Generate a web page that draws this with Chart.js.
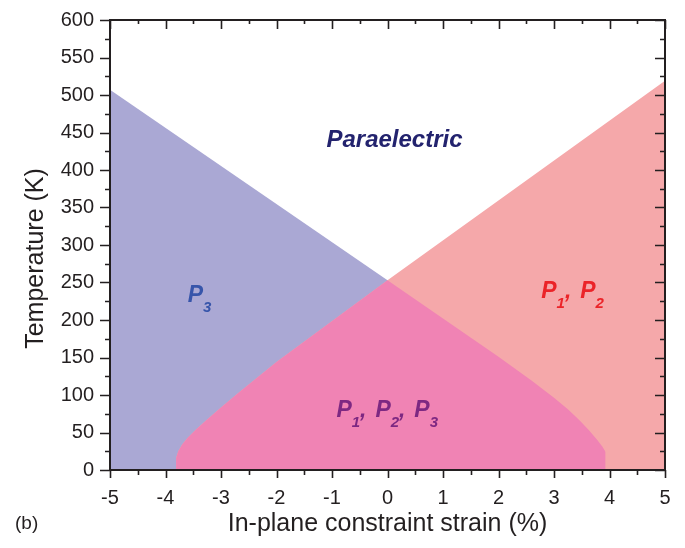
<!DOCTYPE html>
<html><head><meta charset="utf-8">
<script src="https://cdn.jsdelivr.net/npm/chart.js@4.4.0/dist/chart.umd.min.js"></script>
<style>html,body{margin:0;padding:0;background:#fff}#wrap{width:685px;height:548px}</style>
</head><body><div id="wrap"><canvas id="c" width="685" height="548"></canvas></div>
<script>
// ---- data ----
const xTickLabels = ['-5','-4','-3','-2','-1','0','1','2','3','4','5'];
const yTickLabels = ['0','50','100','150','200','250','300','350','400','450','500','550','600'];
// upper limit of the P3 (out-of-plane) phase
const p3Strain = [-5, 0, 2.0, 2.6, 3.0, 3.25, 3.45, 3.63, 3.78, 3.87, 3.93, 3.93];
const p3Temp   = [507, 253, 151, 119, 96.5, 81, 67, 53, 40, 31.5, 24, 0];
// upper limit of the P1,P2 (in-plane) phase
const p12Strain = [-3.81, -3.81, -3.77, -3.70, -3.60, -3.45, -3.25, -3.00, -2.70, -2.40, -2.00, 0, 5];
const p12Temp   = [0, 16, 25, 34, 43, 54, 67.5, 83.5, 102, 120, 144, 253, 519];
const phaseNames = ['Paraelectric', 'P3', 'P1, P2', 'P1, P2, P3'];
const xTitle = 'In-plane constraint strain (%)';
const yTitle = 'Temperature (K)';
const panelTag = '(b)';

const toXY = (xs, ys) => xs.map((x, i) => ({x: x, y: ys[i]}));
const p3Pts = toXY(p3Strain, p3Temp);
const p12Pts = toXY(p12Strain, p12Temp);
const overlapPts = p12Pts.filter(p => p.x <= 0).concat(p3Pts.filter(p => p.x > 0));

const FONT = '"Liberation Sans", Arial, Helvetica, sans-serif';
const AXIS = '#231f20';

const regionLabels = [
  {parts: [['Paraelectric','m']], x: -1.10, y: 430.7, color: '#23236e', size: 24},
  {parts: [['P','m'],['3','s']], x: -3.60, y: 224, color: '#3755aa', size: 23},
  {parts: [['P','m'],['1','s'],[',','c'],['P','m'],['2','s']], x: 2.77, y: 229, color: '#eb2328', size: 23},
  {parts: [['P','m'],['1','s'],[',','c'],['P','m'],['2','s'],[',','c'],['P','m'],['3','s']], x: -0.92, y: 70.7, color: '#7d2882', size: 23}
];

const decorPlugin = {
  id: 'decor',
  afterDatasetsDraw(chart) {
    const ctx = chart.ctx, xs = chart.scales.x, ys = chart.scales.y;
    ctx.save();
    regionLabels.forEach(l => {
      let px = xs.getPixelForValue(l.x);
      const py = ys.getPixelForValue(l.y);
      ctx.fillStyle = l.color;
      ctx.textAlign = 'left';
      ctx.textBaseline = 'alphabetic';
      l.parts.forEach(([t, k]) => {
        if (k === 's') {
          ctx.font = 'italic bold 15px ' + FONT;
          ctx.fillText(t, px, py + 10);
          px += ctx.measureText(t).width;
        } else {
          ctx.font = 'italic bold ' + l.size + 'px ' + FONT;
          ctx.fillText(t, px, py);
          px += ctx.measureText(t).width;
          if (k === 'c') px += ctx.measureText(' ').width + 2.5;
        }
      });
    });
    ctx.restore();
  },
  afterDraw(chart) {
    const ctx = chart.ctx, xs = chart.scales.x, ys = chart.scales.y;
    const a = chart.chartArea;
    ctx.save();
    ctx.strokeStyle = AXIS;
    ctx.lineWidth = 2;
    ctx.strokeRect(a.left, a.top, a.right - a.left, a.bottom - a.top);
    ctx.lineWidth = 1.6;
    ctx.beginPath();
    for (let v = xs.min; v <= xs.max + 1e-9; v += 0.5) {
      const major = Math.abs(v - Math.round(v)) < 1e-9;
      const px = Math.round(xs.getPixelForValue(v)) + 0.5;
      const L = major ? 8 : 5;
      ctx.moveTo(px, a.bottom); ctx.lineTo(px, a.bottom + L);
      const Lt = major ? 9 : 4;
      ctx.moveTo(px, a.top); ctx.lineTo(px, a.top + Lt);
    }
    for (let v = ys.min; v <= ys.max + 1e-9; v += 25) {
      const major = v % 50 === 0;
      const py = Math.round(ys.getPixelForValue(v)) + 0.5;
      const L = major ? 10 : 5;
      ctx.moveTo(a.left, py); ctx.lineTo(a.left - L, py);
      ctx.moveTo(a.right, py); ctx.lineTo(a.right - L, py);
    }
    ctx.stroke();
    ctx.fillStyle = AXIS;
    ctx.font = '25px ' + FONT;
    ctx.textAlign = 'center';
    ctx.textBaseline = 'alphabetic';
    ctx.fillText(xTitle, (a.left + a.right) / 2, 531);
    ctx.save();
    ctx.translate(43, 258.5);
    ctx.rotate(-Math.PI / 2);
    ctx.fillText(yTitle, 0, 0);
    ctx.restore();
    ctx.font = '19px ' + FONT;
    ctx.textAlign = 'left';
    ctx.textBaseline = 'middle';
    ctx.fillText(panelTag, 15, 524);
    ctx.restore();
  }
};

const common = {fill: 'origin', borderWidth: 0, borderColor: 'rgba(0,0,0,0)', pointRadius: 0, pointHoverRadius: 0, tension: 0};
const tickFont = {family: FONT, size: 20};
const hiddenGrid = {display: true, drawOnChartArea: false, drawTicks: true, tickLength: 8, color: 'rgba(0,0,0,0)'};

new Chart(document.getElementById('c'), {
  type: 'line',
  data: {
    datasets: [
      Object.assign({label: phaseNames[3], data: overlapPts, backgroundColor: '#f083b4'}, common),
      Object.assign({label: phaseNames[2], data: p12Pts, backgroundColor: '#f5a8aa'}, common),
      Object.assign({label: phaseNames[1], data: p3Pts, backgroundColor: '#aaa8d4'}, common)
    ]
  },
  options: {
    animation: false,
    responsive: false,
    devicePixelRatio: 1,
    layout: {padding: {top: 20, right: 20, left: 0, bottom: 0}},
    plugins: {legend: {display: false}, tooltip: {enabled: false}},
    scales: {
      x: {
        type: 'linear', min: -5, max: 5,
        grid: hiddenGrid,
        border: {display: false},
        ticks: {stepSize: 1, padding: 8, font: tickFont, color: AXIS,
          callback: v => { const l = xTickLabels.find(s => Number(s) === v); return l === undefined ? '' : l; }},
        afterFit(s) { s.height = 78; }
      },
      y: {
        type: 'linear', min: 0, max: 600,
        grid: hiddenGrid,
        border: {display: false},
        ticks: {stepSize: 50, padding: 8, font: tickFont, color: AXIS,
          callback: v => { const l = yTickLabels.find(s => Number(s) === v); return l === undefined ? '' : l; }},
        afterFit(s) { s.width = 110; }
      }
    }
  },
  plugins: [decorPlugin]
});
</script>
</body></html>
